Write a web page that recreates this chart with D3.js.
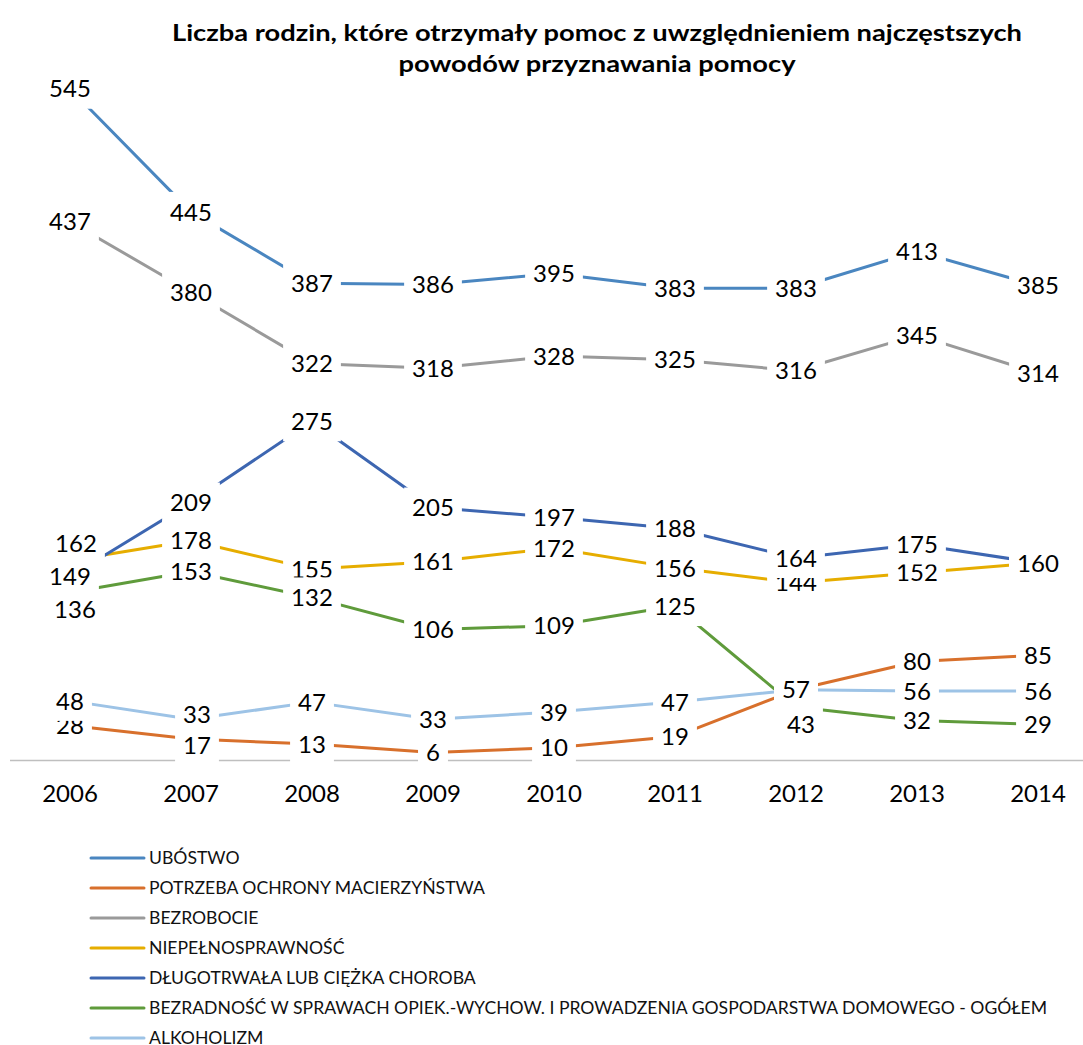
<!DOCTYPE html>
<html lang="pl">
<head>
<meta charset="utf-8">
<title>Liczba rodzin, które otrzymały pomoc</title>
<script src="https://cdn.jsdelivr.net/npm/d3@7"></script>
<style>
  html, body { margin: 0; padding: 0; background: #fff; }
  svg { display: block; font-family: Lato, "Open Sans", sans-serif; }
</style>
</head>
<body>
<script>
// Years on the category axis
const years = ["2006", "2007", "2008", "2009", "2010", "2011", "2012", "2013", "2014"];

// Reasons for granting assistance (legend order = drawing order)
const seriesNames = [
  "UBÓSTWO",
  "POTRZEBA OCHRONY MACIERZYŃSTWA",
  "BEZROBOCIE",
  "NIEPEŁNOSPRAWNOŚĆ",
  "DŁUGOTRWAŁA LUB CIĘŻKA CHOROBA",
  "BEZRADNOŚĆ W SPRAWACH OPIEK.-WYCHOW. I PROWADZENIA GOSPODARSTWA DOMOWEGO - OGÓŁEM",
  "ALKOHOLIZM"
];

// Number of families per year
const ubostwo        = [545, 445, 387, 386, 395, 383, 383, 413, 385];
const macierzynstwo  = [28, 17, 13, 6, 10, 19, 57, 80, 85];
const bezrobocie     = [437, 380, 322, 318, 328, 325, 316, 345, 314];
const niepelnosprawnosc = [162, 178, 155, 161, 172, 156, 144, 152, 160];
const choroba        = [149, 209, 275, 205, 197, 188, 164, 175, 160];
const bezradnosc     = [136, 153, 132, 106, 109, 125, 43, 32, 29];
const alkoholizm     = [48, 33, 47, 33, 39, 47, 57, 56, 56];

const seriesValues = [ubostwo, macierzynstwo, bezrobocie, niepelnosprawnosc, choroba, bezradnosc, alkoholizm];

// Where each value label sits relative to its point:
// "c" centred, "a" above, "b" below, "n" slightly up, "s" slightly down
const labelPlacement = [
  ["c", "c", "c", "c", "c", "c", "c", "c", "c"],
  ["c", "s", "c", "c", "c", "c", "c", "c", "c"],
  ["c", "c", "c", "c", "c", "c", "c", "c", "c"],
  ["a", "c", "c", "c", "c", "c", "c", "c", "c"],
  ["c", "c", "c", "c", "c", "c", "c", "c", "c"],
  ["b", "c", "c", "c", "c", "c", "b", "c", "c"],
  ["c", "n", "c", "c", "c", "c", "c", "c", "c"]
];

const titleLines = [
  "Liczba rodzin, które otrzymały pomoc z uwzględnieniem najczęstszych",
  "powodów przyznawania pomocy"
];

const palette = ["#4A86C0", "#D8702C", "#9A9A9A", "#E6AD00", "#3D66B1", "#5F9B3B", "#9DC3E6"];

const W = 1083, H = 1045;
const svg = d3.select("body").append("svg").attr("width", W).attr("height", H);

// ---- scales ----
const x = d3.scaleBand().domain(years).range([9.5, 1098.5]).padding(0);
const cx = yr => x(yr) + x.bandwidth() / 2;
const y = d3.scaleLinear().domain([0, 600]).range([760, 21]);

// ---- title ----
const title = svg.append("g").attr("font-weight", 700).attr("font-size", 22).attr("fill", "#000");
const titleNodes = titleLines.map((t, i) =>
  title.append("text").attr("x", 597).attr("y", 41 + i * 31).attr("text-anchor", "middle").text(t)
);
const titleScale = 850 / titleNodes[0].node().getComputedTextLength();
titleNodes.forEach(n => {
  const len = n.node().getComputedTextLength();
  n.attr("textLength", len * titleScale).attr("lengthAdjust", "spacingAndGlyphs");
});

// ---- category axis ----
const axisG = svg.append("g")
  .attr("transform", `translate(0,${y(0)})`)
  .call(d3.axisBottom(x).tickSize(0).tickSizeOuter(0).tickPadding(25));
axisG.select(".domain").attr("stroke", "#BFBFBF").attr("stroke-width", 1.5);
axisG.selectAll("text").attr("font-family", "Lato, 'Open Sans', sans-serif")
  .attr("font-size", 24).attr("fill", "#000");

// ---- lines ----
const line = d3.line()
  .x((d, i) => cx(years[i]))
  .y(d => y(d));

svg.append("g").selectAll("path")
  .data(seriesValues)
  .join("path")
  .attr("d", line)
  .attr("fill", "none")
  .attr("stroke", (d, i) => palette[i])
  .attr("stroke-width", 3)
  .attr("stroke-linejoin", "round")
  .attr("stroke-linecap", "round");

// ---- value labels (white boxes, series order) ----
const offsets = { c: [0, 0], a: [6, -17], b: [5, 17], n: [6, -5], s: [6, 6] };
const labelsG = svg.append("g").attr("font-size", 24).attr("fill", "#000");
seriesValues.forEach((vals, si) => {
  vals.forEach((v, i) => {
    const off = offsets[labelPlacement[si][i]];
    const lx = cx(years[i]) + off[0];
    const ly = y(v) + off[1];
    const g = labelsG.append("g");
    const rect = g.append("rect").attr("fill", "#fff");
    const t = g.append("text")
      .attr("x", lx).attr("y", ly)
      .attr("dy", "0.36em")
      .attr("text-anchor", "middle")
      .text(v);
    const w = t.node().getComputedTextLength() + 16;
    rect.attr("x", lx - w / 2).attr("y", ly - 20).attr("width", w).attr("height", 40);
  });
});

// ---- legend ----
const legend = svg.append("g").attr("font-size", 17).attr("fill", "#111");
const rows = seriesNames.map((name, i) => {
  const ry = 858 + i * 30;
  legend.append("line")
    .attr("x1", 91).attr("x2", 144).attr("y1", ry).attr("y2", ry)
    .attr("stroke", palette[i]).attr("stroke-width", 3).attr("stroke-linecap", "round");
  return legend.append("text").attr("x", 149).attr("y", ry).attr("dy", "0.36em").text(name);
});
const longest = rows[5].node().getComputedTextLength();
const legendScale = 898 / longest;
rows.forEach(r => {
  const len = r.node().getComputedTextLength();
  r.attr("textLength", len * legendScale).attr("lengthAdjust", "spacingAndGlyphs");
});
</script>
</body>
</html>
